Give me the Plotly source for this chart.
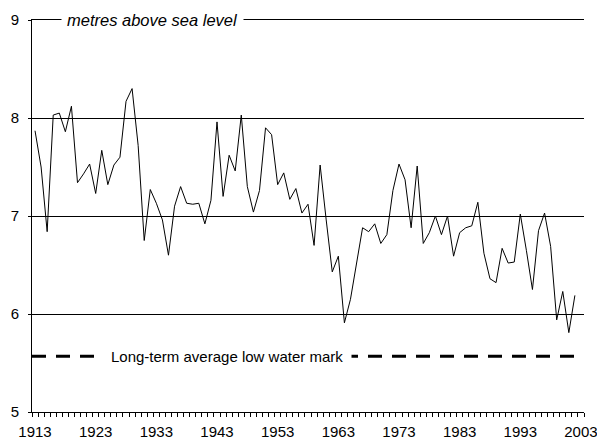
import plotly.graph_objects as go

# Annual low water level, metres above sea level
years = list(range(1913, 2003))
levels = [
    7.87, 7.50, 6.84, 8.03, 8.05, 7.86, 8.12, 7.34, 7.43, 7.53,
    7.23, 7.67, 7.32, 7.52, 7.60, 8.17, 8.30, 7.72, 6.75, 7.27,
    7.13, 6.96, 6.60, 7.10, 7.30, 7.13, 7.12, 7.13, 6.92, 7.16,
    7.96, 7.20, 7.62, 7.46, 8.03, 7.30, 7.04, 7.26, 7.90, 7.83,
    7.32, 7.44, 7.17, 7.28, 7.03, 7.12, 6.70, 7.52, 6.96, 6.43,
    6.59, 5.91, 6.15, 6.53, 6.88, 6.84, 6.92, 6.72, 6.81, 7.26,
    7.53, 7.37, 6.88, 7.51, 6.72, 6.83, 7.00, 6.81, 7.00, 6.59,
    6.83, 6.88, 6.90, 7.14, 6.62, 6.36, 6.32, 6.67, 6.52, 6.53,
    7.02, 6.65, 6.25, 6.85, 7.03, 6.69, 5.94, 6.23, 5.81, 6.19,
]
long_term_low = 5.57
tick_years = list(range(1913, 2004, 10))

font = 'Liberation Sans, Arial, sans-serif'

fig = go.Figure()

# Long-term average (dashed)
fig.add_trace(go.Scatter(
    x=[years[0] - 0.5, years[-1] + 0.5],
    y=[long_term_low, long_term_low],
    mode='lines',
    line=dict(color='black', width=3, dash='14px,10px'),
    hoverinfo='skip',
    showlegend=False
))

# Water level
fig.add_trace(go.Scatter(
    x=years,
    y=levels,
    mode='lines',
    line=dict(color='black', width=1),
    showlegend=False
))

fig.add_annotation(
    x=1924.0, y=long_term_low, xref='x', yref='y',
    text='Long-term average low water mark',
    showarrow=False, xanchor='left', yanchor='middle',
    bgcolor='white', borderpad=8,
    font=dict(family=font, size=15, color='black')
)

fig.add_annotation(
    x=1917.3, y=9, xref='x', yref='y',
    text='<i>metres above sea level</i>',
    showarrow=False, xanchor='left', yanchor='middle',
    bgcolor='white', borderpad=5,
    font=dict(family=font, size=16.5, color='black')
)

fig.update_layout(
    width=597,
    height=443,
    margin=dict(l=32, r=13, t=20, b=31),
    plot_bgcolor='white',
    paper_bgcolor='white',
    font=dict(family=font, size=15, color='black'),
    xaxis=dict(
        range=[1912.5, 2003.5],
        tickvals=tick_years,
        ticks='',
        showgrid=False,
        showline=True,
        mirror=True,
        linecolor='black',
        linewidth=1,
        zeroline=False,
        automargin=False,
        minor=dict(tick0=1912.5, dtick=1, ticks='outside', ticklen=4,
                   tickcolor='black', showgrid=False),
        tickfont=dict(size=15),
        ticklabelstandoff=6,
        ticklabeloverflow='allow',
    ),
    yaxis=dict(
        range=[5, 9],
        dtick=1,
        showgrid=True,
        gridcolor='black',
        gridwidth=1,
        showline=True,
        linecolor='black',
        linewidth=1,
        ticks='outside',
        ticklen=3,
        tickcolor='black',
        ticklabelstandoff=6,
        zeroline=False,
        automargin=False,
        tickfont=dict(size=15),
    ),
)

# drop the page's default body margin so the chart fills the window
fig.write_html('out.html', config={'displayModeBar': False},
               post_script="document.body.style.margin='0';")
